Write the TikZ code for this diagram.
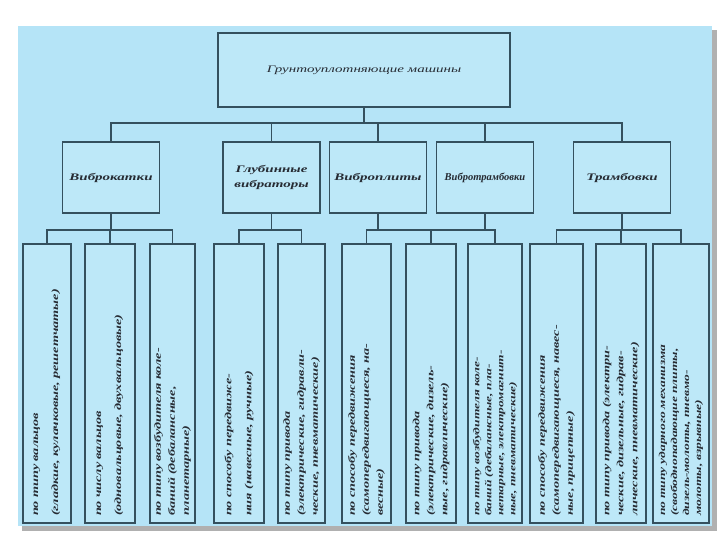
\documentclass[tikz,border=0pt]{standalone}
\usepackage{fontspec}
\setmainfont{Liberation Serif}
\newfontfamily\scanfont[FakeStretch=1.5]{Liberation Serif}
\usetikzlibrary{calc,positioning}
\definecolor{color_panel}{HTML}{B5E4F7}
\definecolor{color_box}{HTML}{BDE8F8}
\definecolor{color_line}{HTML}{34505E}
\definecolor{color_ink}{HTML}{262B33}
\definecolor{color_shadow}{HTML}{B0B0B0}

\tikzset{
	wire/.style={color_line, line width=1.6pt},
	headbox/.style={draw=color_line, line width=1.6pt, fill=color_box,
		minimum width=292, minimum height=74, text=color_ink,
		font=\scanfont\itshape\fontsize{10}{12}\selectfont},
	groupbox/.style={draw=color_line, line width=1.6pt, fill=color_box,
		text width=89, inner xsep=4, minimum height=71, text=color_ink, align=center,
		font=\scanfont\itshape\bfseries\fontsize{10}{15}\selectfont},
	signbox/.style={draw=color_line, line width=1.6pt, fill=color_box,
		rotate=90, text width=265, inner xsep=7, inner ysep=1,
		minimum height=#1, align=left, text=color_ink},
	two/.style={font=\scanfont\itshape\bfseries\fontsize{9.5}{20}\selectfont},
	three/.style={font=\scanfont\itshape\bfseries\fontsize{9.5}{14}\selectfont},
	four/.style={font=\scanfont\itshape\bfseries\fontsize{9}{12}\selectfont},
}

\begin{document}
\begin{tikzpicture}[x=1pt,y=1pt]
	\useasboundingbox (0,0) rectangle (720,540);
	% Panel
	\fill[color_shadow] (22,9) rectangle (717,510);
	\fill[color_panel] (18,14) rectangle (712,514);

	% Head
	\node[headbox] (machines) at (364,470) {Грунтоуплотняющие машины};

	% Groups
	\node[groupbox] (rollers) at (111,362.5) {Виброкатки};
	\node[groupbox] (deepvib) at (271.5,362.5) {Глубинные\\вибраторы};
	\node[groupbox] (plates) at (378,362.5) {Виброплиты};
	\node[groupbox, font=\rmfamily\itshape\bfseries\fontsize{10.5}{12}\selectfont]
		(vibrammers) at (485,362.5) {Вибротрамбовки};
	\node[groupbox] (rammers) at (622,362.5) {Трамбовки};

	% Signs
	\node[signbox=48,two] (rollDrum) at (47,156.5)
		{по типу вальцов\\(гладкие, кулачковые, решетчатые)};
	\node[signbox=50,two] (rollCount) at (110,156.5)
		{по числу вальцов\\(одновальцовые, двухвальцовые)};
	\node[signbox=45,three] (rollExciter) at (172.5,156.5)
		{по типу возбудителя коле-\\баний (дебалансные,\\планетарные)};
	\node[signbox=50,two] (deepMove) at (239,156.5)
		{по способу передвиже-\\ния (навесные, ручные)};
	\node[signbox=47,three] (deepDrive) at (301.5,156.5)
		{по типу привода\\(электрические, гидравли-\\ческие, пневматические)};
	\node[signbox=49,three] (plateMove) at (366.5,156.5)
		{по способу передвижения\\(самопередвигающиеся, на-\\весные)};
	\node[signbox=50,three] (plateDrive) at (431,156.5)
		{по типу привода\\(электрические, дизель-\\ные, гидравлические)};
	\node[signbox=54,four] (rammerExciter) at (495,156.5)
		{по типу возбудителя коле-\\баний (дебалансные, пла-\\нетарные, электромагнит-\\ные, пневматические)};
	\node[signbox=53,three] (ramMove) at (556.5,156.5)
		{по способу передвижения\\(самопередвигающиеся, навес-\\ные, прицепные)};
	\node[signbox=50,three] (ramDrive) at (621,156.5)
		{по типу привода (электри-\\ческие, дизельные, гидрав-\\лические, пневматические)};
	\node[signbox=56,four] (ramTool) at (681,156.5)
		{по типу ударного механизма\\(свободнопадающие плиты,\\дизель-молоты, пневмо-\\молоты, взрывные)};

	% Buses
	\coordinate (busTop) at ($(machines.south)+(0,-15)$);
	\coordinate (busRoll) at ($(rollers.south)+(0,-16)$);
	\coordinate (busDeep) at ($(deepvib.south)+(0,-16)$);
	\coordinate (busPlate) at ($(plates.south)+(0,-16)$);
	\coordinate (busRam) at ($(rammers.south)+(0,-16)$);

	% Links
	\draw[wire] (machines.south) -- (busTop);
	\foreach \n in {rollers,deepvib,plates,vibrammers,rammers}
		\draw[wire] (busTop) -| (\n.north);

	\draw[wire] (rollers.south) -- (busRoll);
	\foreach \n in {rollDrum,rollCount,rollExciter}
		\draw[wire] (busRoll) -| (\n.east);

	\draw[wire] (deepvib.south) -- (busDeep);
	\foreach \n in {deepMove,deepDrive}
		\draw[wire] (busDeep) -| (\n.east);

	\draw[wire] (plates.south) -- (busPlate);
	\draw[wire] (vibrammers.south) -- (vibrammers.south |- busPlate);
	\foreach \n in {plateMove,plateDrive,rammerExciter}
		\draw[wire] (busPlate) -| (\n.east);

	\draw[wire] (rammers.south) -- (busRam);
	\foreach \n in {ramMove,ramDrive,ramTool}
		\draw[wire] (busRam) -| (\n.east);
\end{tikzpicture}
\end{document}
